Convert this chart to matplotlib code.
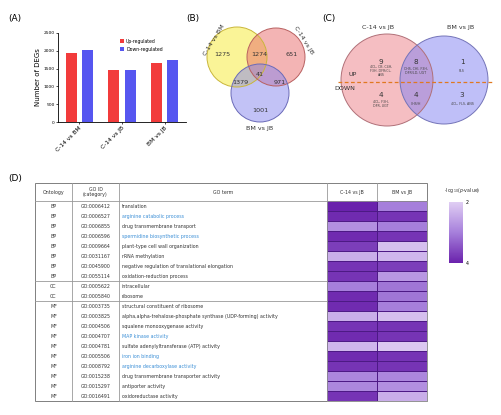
import matplotlib
matplotlib.use("Agg")
import matplotlib.pyplot as plt
import numpy as np
from matplotlib.patches import Circle, Rectangle
from matplotlib.colors import LinearSegmentedColormap

W, H = 502, 415

# (A) number of DEGs
comparisons = ["C-14 vs BM", "C-14 vs JB", "BM vs JB"]
up_counts = [1950, 1460, 1650]
down_counts = [2010, 1470, 1740]

# (B) three-way venn
venn3_names = ["C-14 vs BM", "C-14 vs JB", "BM vs JB"]
venn3_counts = {"100": 1275, "110": 1274, "010": 651, "111": 41,
                "101": 1379, "011": 971, "001": 1001}

# (C) two-way venn, flavonoid genes
venn2_names = ["C-14 vs JB", "BM vs JB"]
up_n = [9, 8, 1]
up_genes = ["4CL, CB, C4H,\nF3H, DFR/CL,\nANS", "CHS, CHI, F3H,\nDFR/LD, UGT", "FLS"]
down_n = [4, 4, 3]
down_genes = ["4CL, F3H,\nDFR, UGT", "CHS/H", "4CL, FLS, ANS"]

# (D) GO enrichment
ontology = ["BP"] * 8 + ["CC"] * 2 + ["MF"] * 10
go_ids = ["GO:0006412", "GO:0006527", "GO:0006855", "GO:0006596", "GO:0009664",
          "GO:0031167", "GO:0045900", "GO:0055114", "GO:0005622", "GO:0005840",
          "GO:0003735", "GO:0003825", "GO:0004506", "GO:0004707", "GO:0004781",
          "GO:0005506", "GO:0008792", "GO:0015238", "GO:0015297", "GO:0016491"]
go_terms = ["translation", "arginine catabolic process", "drug transmembrane transport",
            "spermidine biosynthetic process", "plant-type cell wall organization",
            "rRNA methylation", "negative regulation of translational elongation",
            "oxidation-reduction process", "intracellular", "ribosome",
            "structural constituent of ribosome",
            "alpha,alpha-trehalose-phosphate synthase (UDP-forming) activity",
            "squalene monooxygenase activity", "MAP kinase activity",
            "sulfate adenylyltransferase (ATP) activity", "iron ion binding",
            "arginine decarboxylase activity", "drug transmembrane transporter activity",
            "antiporter activity", "oxidoreductase activity"]
highlighted = [1, 3, 13, 15, 16]
neglogp_c14 = [4.0, 3.9, 2.8, 3.9, 3.7, 2.4, 3.8, 3.8, 3.0, 3.9,
               3.9, 2.4, 3.8, 3.9, 2.3, 3.9, 3.8, 2.9, 2.9, 3.8]
neglogp_bm = [3.0, 3.8, 3.0, 3.8, 2.2, 2.3, 3.7, 2.7, 3.1, 3.1,
              3.0, 2.2, 3.8, 3.8, 2.1, 3.8, 3.8, 2.9, 2.8, 2.4]


def frac(x0, y0, x1, y1):
    return [x0 / W, 1 - y1 / H, (x1 - x0) / W, (y1 - y0) / H]


fig = plt.figure(figsize=(W / 100, H / 100), dpi=100)

# overlay in pixel coordinates
ov = fig.add_axes([0, 0, 1, 1])
ov.set_xlim(0, W)
ov.set_ylim(H, 0)
ov.axis("off")

for lab, (x, y) in zip(["(A)", "(B)", "(C)", "(D)"],
                       [(8, 18), (186, 18), (322, 18), (8, 178)]):
    ov.text(x, y, lab, fontsize=6.5, va="center", ha="left")

# ---- (A) bar chart
ax = fig.add_axes(frac(58, 33, 186, 122))
xs = np.arange(len(comparisons))
ax.bar(xs - 0.19, up_counts, 0.26, color="#f23b3b", label="Up-regulated")
ax.bar(xs + 0.19, down_counts, 0.26, color="#5656f0", label="Down-regulated")
ax.set_xlim(-0.5, 2.5)
ax.set_ylim(0, 2500)
ax.set_yticks(range(0, 2501, 500))
ax.tick_params(axis="y", labelsize=3.2, length=1.5, width=0.5, pad=1)
ax.tick_params(axis="x", labelsize=4.3, length=1.5, width=0.5, pad=1)
ax.set_xticks(xs)
ax.set_xticklabels(comparisons, rotation=45, ha="right", rotation_mode="anchor")
ax.set_ylabel("Number of DEGs", fontsize=5, labelpad=2)
for s in ["top", "right"]:
    ax.spines[s].set_visible(False)
for s in ["left", "bottom"]:
    ax.spines[s].set_linewidth(0.6)
ax.legend(loc="upper right", bbox_to_anchor=(0.85, 0.98), fontsize=3.3, frameon=False,
          handlelength=0.9, handleheight=0.9, labelspacing=0.6, handletextpad=0.5)

# ---- (B) three-way venn
circ3 = [((237, 57), 30, "#f7ea30", "#c9b63a"),
         ((276, 57), 29, "#e86a6a", "#b86060"),
         ((260, 93), 29, "#8686ee", "#6a6ab8")]
for (c, r, fc, ec) in circ3:
    ov.add_patch(Circle(c, r, facecolor=fc, alpha=0.5, edgecolor="none"))
for (c, r, fc, ec) in circ3:
    ov.add_patch(Circle(c, r, facecolor="none", edgecolor=ec, lw=0.7))
pos3 = {"100": (222, 54), "110": (259, 55), "010": (292, 55), "111": (260, 74),
        "101": (240, 83), "011": (280, 83), "001": (260, 110)}
for k, v in venn3_counts.items():
    ov.text(*pos3[k], str(v), fontsize=4.6, ha="center", va="center", color="#333333")
ov.text(214, 40, venn3_names[0], fontsize=4.6, rotation=58, ha="center", va="center",
        color="#333333")
ov.text(304, 40, venn3_names[1], fontsize=4.6, rotation=-58, ha="center", va="center",
        color="#333333")
ov.text(260, 128, venn3_names[2], fontsize=4.6, ha="center", va="center", color="#333333")

# ---- (C) two-way venn
circ2 = [((387, 80), 46, "#ec7f86", "#b07078"),
         ((444, 80), 44, "#8080f2", "#7474b8")]
for (c, r, fc, ec) in circ2:
    ov.add_patch(Circle(c, r, facecolor=fc, alpha=0.5, edgecolor="none"))
for (c, r, fc, ec) in circ2:
    ov.add_patch(Circle(c, r, facecolor="none", edgecolor=ec, lw=0.7))
ov.text(378, 28, venn2_names[0], fontsize=4.6, ha="center", va="center", color="#333333")
ov.text(461, 28, venn2_names[1], fontsize=4.6, ha="center", va="center", color="#333333")
ov.plot([338, 492], [82, 82], ls=(0, (3, 2)), color="#e07820", lw=0.9)
ov.text(353, 75, "UP", fontsize=4.6, ha="center", va="center", color="#333333")
ov.text(345, 89, "DOWN", fontsize=4.6, ha="center", va="center", color="#333333")
cx = [381, 416, 462]
for i in range(3):
    ov.text(cx[i], 62, str(up_n[i]), fontsize=5.2, ha="center", va="center", color="#333333")
    ov.text(cx[i], 71, up_genes[i], fontsize=2.3, ha="center", va="center",
            color="#444444", linespacing=1.1)
    ov.text(cx[i], 95, str(down_n[i]), fontsize=5.2, ha="center", va="center",
            color="#333333")
    ov.text(cx[i], 104, down_genes[i], fontsize=2.3, ha="center", va="center",
            color="#444444", linespacing=1.1)

# ---- (D) table
top, hdr, bot = 183, 201, 401
rowh = (bot - hdr) / len(go_ids)
lc, lw = "#999999", 0.6
ov.add_patch(Rectangle((35, top), 392, bot - top, fill=False, edgecolor="#808080", lw=0.7))
for xv in [72, 119, 327, 377]:
    ov.plot([xv, xv], [top, bot], color=lc, lw=lw)
ov.plot([35, 427], [hdr, hdr], color=lc, lw=lw)
for n in [8, 10]:
    yy = hdr + n * rowh
    ov.plot([35, 327], [yy, yy], color=lc, lw=lw)
hy = (top + hdr) / 2
fs = 3.4
ov.text(53.5, hy, "Ontology", fontsize=fs, ha="center", va="center", color="#333333")
ov.text(95.5, hy, "GO ID\n(category)", fontsize=fs, ha="center", va="center",
        color="#333333", linespacing=1.0)
ov.text(223, hy, "GO term", fontsize=fs, ha="center", va="center", color="#333333")
ov.text(352, hy, "C-14 vs JB", fontsize=fs, ha="center", va="center", color="#333333")
ov.text(402, hy, "BM vs JB", fontsize=fs, ha="center", va="center", color="#333333")
for i in range(len(go_ids)):
    yy = hdr + (i + 0.5) * rowh
    ov.text(53.5, yy, ontology[i], fontsize=fs, ha="center", va="center", color="#333333")
    ov.text(95.5, yy, go_ids[i], fontsize=fs, ha="center", va="center", color="#333333")
    col = "#3c8fd6" if i in highlighted else "#333333"
    ov.text(122, yy, go_terms[i], fontsize=fs, ha="left", va="center", color=col)

cmap = LinearSegmentedColormap.from_list("pp", ["#e0cef3", "#a67fdb", "#6a22ac"])
hm = fig.add_axes(frac(327, hdr, 427, bot))
data = np.column_stack([neglogp_c14, neglogp_bm])
mesh = hm.pcolormesh(data, cmap=cmap, vmin=2, vmax=4, edgecolors="#4d1a85", linewidth=0.4)
hm.set_xlim(0, 2)
hm.set_ylim(len(go_ids), 0)
hm.set_xticks([])
hm.set_yticks([])
for s in hm.spines.values():
    s.set_color(lc)
    s.set_linewidth(lw)

cax = fig.add_axes(frac(449, 202, 463, 263))
cb = fig.colorbar(mesh, cax=cax)
cb.outline.set_visible(False)
cax.invert_yaxis()
cb.set_ticks([2, 4])
cax.tick_params(labelsize=3.4, length=0, pad=2)
ov.text(462, 190, r"-log$_{10}$($p$-value)", fontsize=3.4, ha="center", va="center",
        color="#333333")

fig.savefig("out.png", dpi=100)
